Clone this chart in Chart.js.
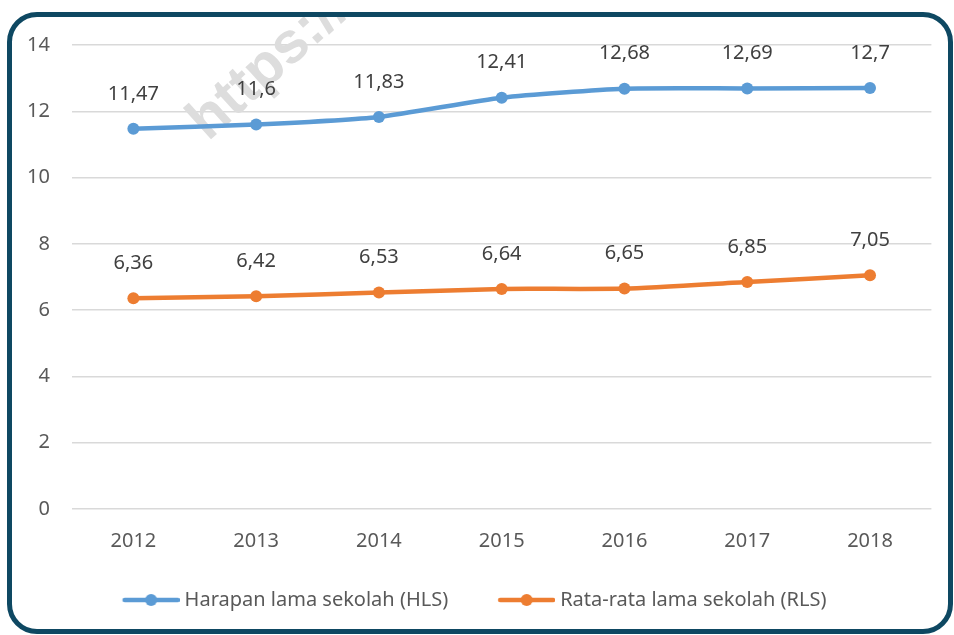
<!DOCTYPE html>
<html>
<head>
<meta charset="utf-8">
<script src="https://cdn.jsdelivr.net/npm/chart.js@4"></script>
<style>
  html, body { margin:0; padding:0; background:#fff; }
  #wrap { position:relative; width:954px; height:635px; overflow:hidden; }
  #c { position:absolute; left:0; top:0; }
  #frame { position:absolute; left:7px; top:12px; width:946px; height:622px; box-sizing:border-box;
           border:5px solid #0e4862; border-radius:30px; pointer-events:none; }
</style>
</head>
<body>
<div id="wrap">
  <canvas id="c" width="954" height="635"></canvas>
  <div id="frame"></div>
</div>
<script>
const years = ['2012','2013','2014','2015','2016','2017','2018'];
const hls = [11.47, 11.6, 11.83, 12.41, 12.68, 12.69, 12.7];
const rls = [6.36, 6.42, 6.53, 6.64, 6.65, 6.85, 7.05];
const seriesNames = ['Harapan lama sekolah (HLS)', 'Rata-rata lama sekolah (RLS)'];
const colors = ['#5b9bd5', '#ed7d31'];

const FONT = 'Noto Sans';
const fmt = v => String(v).replace('.', ',');

// legend mark: line with a dot, pushed to the right side of the image
function legendMark(color){
  const cv = document.createElement('canvas');
  cv.width = 77; cv.height = 14;
  const g = cv.getContext('2d');
  g.strokeStyle = color; g.lineWidth = 4.5; g.lineCap = 'round';
  g.beginPath(); g.moveTo(22, 7); g.lineTo(75, 7); g.stroke();
  g.fillStyle = color;
  g.beginPath(); g.arc(48.5, 7, 6, 0, Math.PI*2); g.fill();
  return cv;
}

const valueLabels = {
  id:'valueLabels',
  afterDatasetsDraw(chart){
    const ctx = chart.ctx;
    ctx.save();
    ctx.font = '20px "' + FONT + '"';
    ctx.fillStyle = '#404040';
    ctx.textAlign = 'center';
    ctx.textBaseline = 'middle';
    chart.data.datasets.forEach((ds, i) => {
      chart.getDatasetMeta(i).data.forEach((pt, j) => {
        ctx.fillText(fmt(ds.data[j]), pt.x, pt.y - 35);
      });
    });
    ctx.restore();
  }
};

const watermark = {
  id:'watermark',
  beforeDatasetsDraw(chart){
    const ctx = chart.ctx;
    ctx.save();
    ctx.beginPath(); ctx.rect(0, 17, 954, 618); ctx.clip();
    ctx.translate(208, 142);
    ctx.rotate(-42 * Math.PI / 180);
    ctx.font = 'bold 58px "Liberation Sans"';
    ctx.fillStyle = '#dddddd';
    ctx.textBaseline = 'alphabetic';
    ctx.fillText('https://', 0, 0);
    ctx.restore();
  }
};

new Chart(document.getElementById('c'), {
  type:'line',
  data:{
    labels: years,
    datasets:[
      { label: seriesNames[0], data: hls, borderColor: colors[0], backgroundColor: colors[0],
        borderWidth: 4.5, pointRadius: 6, pointBorderWidth: 0, tension: 0.2 },
      { label: seriesNames[1], data: rls, borderColor: colors[1], backgroundColor: colors[1],
        borderWidth: 4.5, pointRadius: 6, pointBorderWidth: 0, tension: 0.2 }
    ]
  },
  options:{
    responsive:false,
    animation:false,
    layout:{ padding:{ top:45, left:2.6, right:22.6, bottom:15 } },
    scales:{
      x:{
        offset:true,
        grid:{ display:false, drawTicks:false },
        border:{ display:false },
        ticks:{ color:'#595959', font:{ family:FONT, size:20 }, padding:20, maxRotation:0 },
        afterFit: s => { s.height = 46; }
      },
      y:{
        min:0, max:14,
        grid:{ color:'#d9d9d9', lineWidth:1.5, drawTicks:false },
        border:{ display:false },
        ticks:{ stepSize:2, color:'#595959', font:{ family:FONT, size:20 }, padding:22 },
        afterFit: s => { s.width = 69.4; }
      }
    },
    plugins:{
      tooltip:{ enabled:false },
      legend:{
        position:'bottom',
        labels:{
          usePointStyle:true,
          pointStyleWidth:67,
          padding:35,
          color:'#595959',
          font:{ family:FONT, size:20 },
          generateLabels: chart => chart.data.datasets.map((ds, i) => ({
            text: ds.label,
            pointStyle: legendMark(colors[i]),
            fillStyle: colors[i],
            strokeStyle: colors[i],
            lineWidth: 0,
            fontColor: '#595959',
            hidden: false,
            datasetIndex: i
          }))
        }
      }
    }
  },
  plugins:[watermark, valueLabels]
});
</script>
</body>
</html>
